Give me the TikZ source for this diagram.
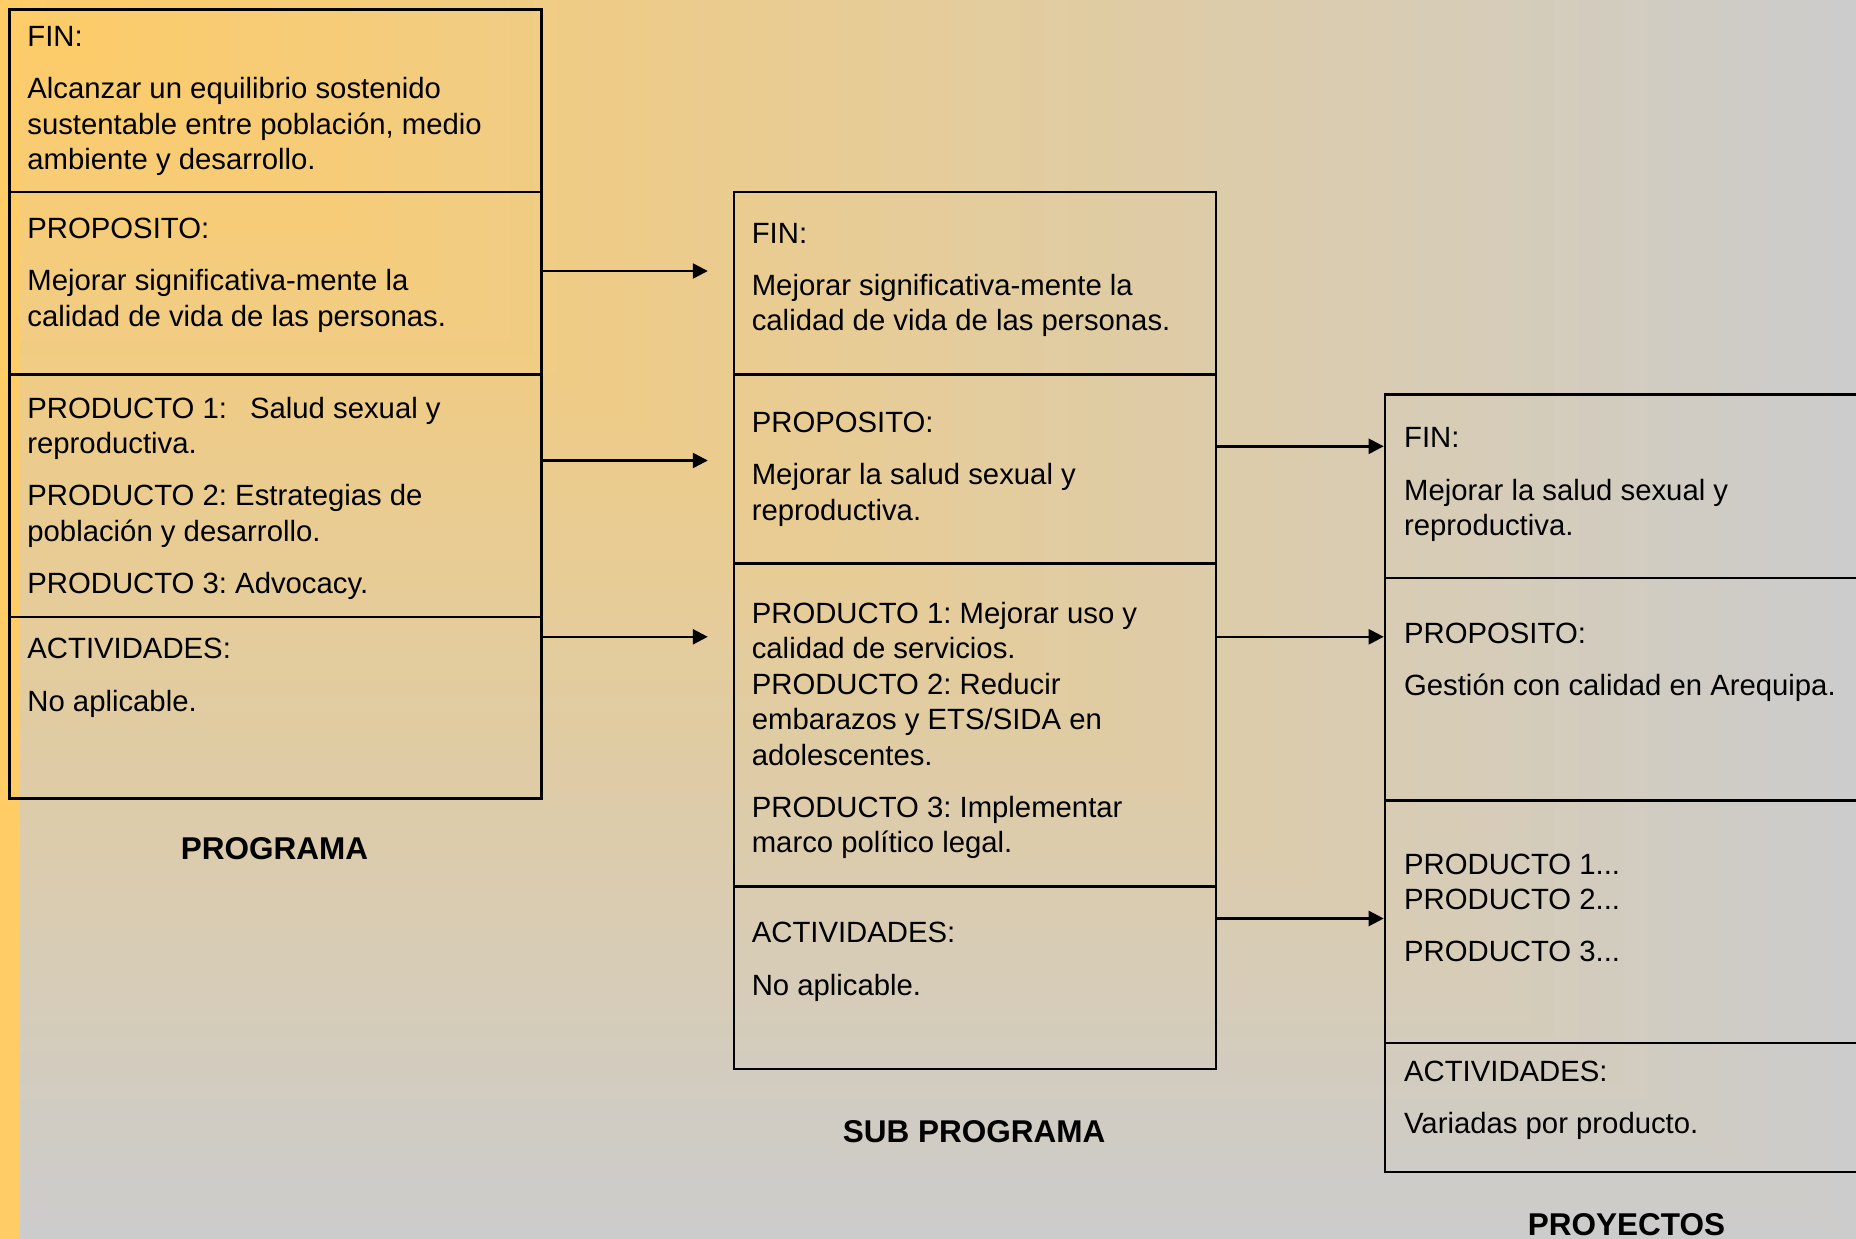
\documentclass[tikz,border=0pt]{standalone}
\usepackage{fontspec}
\setmainfont{Liberation Sans}
\usetikzlibrary{arrows.meta}
\definecolor{warm}{RGB}{255,204,102}
\definecolor{cool}{RGB}{204,204,204}
\frenchspacing
\begin{document}
\begin{tikzpicture}[x=1pt,y=-1pt,
  sec/.style={draw=black, line width=2.6pt, rectangle, inner sep=0pt, anchor=north west},
  txt/.style={anchor=north west, inner sep=0pt, align=left, font=\fontsize{29.3}{35.5}\selectfont},
  lbl/.style={inner sep=0pt, font=\bfseries\fontsize{31.5}{36}\selectfont},
  link/.style={line width=2.4pt, -{Triangle[length=15pt,width=15pt]}}]
\useasboundingbox (0,0) rectangle (1856,1239);
\clip (0,0) rectangle (1856,1239);
% background: gradient spreading from the top left corner
\foreach \i in {80,79,...,1}{
  \pgfmathsetmacro{\pct}{100-\i*1.25}
  \fill[warm!\pct!cool] (0,0) rectangle (\i*23.2, \i*15.4875);
}
\fill[warm] (0,0) rectangle (20,1239);

% PROGRAMA
\node[sec, minimum width=532pt, minimum height=182.6pt] (L1) at (8,8) {};
\node[sec, minimum width=532pt, minimum height=182.3pt] (L2) at (8,190.6) {};
\node[sec, minimum width=532pt, minimum height=242.6pt] (L3) at (8,372.9) {};
\node[sec, minimum width=532pt, minimum height=181.5pt] (L4) at (8,615.5) {};
\node[txt] (tL1) at (27.2,26.3) {FIN:\\[16.6pt]Alcanzar un equilibrio sostenido\\sustentable entre población, medio\\ambiente y desarrollo.};
\node[txt] (tL2) at (27.2,218.1) {PROPOSITO:\\[16.6pt]Mejorar significativa-mente la\\calidad de vida de las personas.};
\node[txt] (tL3) at (27.2,396.8) {PRODUCTO 1:\hspace{23pt}Salud sexual y\\reproductiva.\\[16.6pt]PRODUCTO 2: Estrategias de\\población y desarrollo.\\[16.6pt]PRODUCTO 3: Advocacy.};
\node[txt] (tL4) at (27.2,638.3) {ACTIVIDADES:\\[16.6pt]No aplicable.};
\node[lbl] (lp) at (274.6,848.7) {PROGRAMA};

% SUB PROGRAMA
\node[sec, minimum width=481.8pt, minimum height=182.3pt] (M1) at (732.7,190.6) {};
\node[sec, minimum width=481.8pt, minimum height=189.4pt] (M2) at (732.7,372.9) {};
\node[sec, minimum width=481.8pt, minimum height=323.1pt] (M3) at (732.7,562.3) {};
\node[sec, minimum width=481.8pt, minimum height=182.3pt] (M4) at (732.7,885.4) {};
\node[txt] (tM1) at (751.6,222.8) {FIN:\\[16.6pt]Mejorar significativa-mente la\\calidad de vida de las personas.};
\node[txt] (tM2) at (751.6,412.2) {PROPOSITO:\\[16.6pt]Mejorar la salud sexual y\\reproductiva.};
\node[txt] (tM3) at (751.6,601.6) {PRODUCTO 1: Mejorar uso y\\calidad de servicios.\\PRODUCTO 2: Reducir\\embarazos y ETS/SIDA en\\adolescentes.\\[16.6pt]PRODUCTO 3: Implementar\\marco político legal.};
\node[txt] (tM4) at (751.6,922.3) {ACTIVIDADES:\\[16.6pt]No aplicable.};
\node[lbl] (ls) at (974.2,1131.6) {SUB PROGRAMA};

% PROYECTOS
\node[sec, minimum width=516.3pt, minimum height=183.5pt] (R1) at (1383.7,393) {};
\node[sec, minimum width=516.3pt, minimum height=222.5pt] (R2) at (1383.7,576.5) {};
\node[sec, minimum width=516.3pt, minimum height=242.6pt] (R3) at (1383.7,799) {};
\node[sec, minimum width=516.3pt, minimum height=129.1pt] (R4) at (1383.7,1041.6) {};
\node[txt] (tR1) at (1403.9,427.6) {FIN:\\[16.6pt]Mejorar la salud sexual y\\reproductiva.};
\node[txt] (tR2) at (1403.9,622.9) {PROPOSITO:\\[16.6pt]Gestión con calidad en Arequipa.};
\node[txt] (tR3) at (1403.9,853.7) {PRODUCTO 1...\\PRODUCTO 2...\\[16.6pt]PRODUCTO 3...};
\node[txt] (tR4) at (1403.9,1060.8) {ACTIVIDADES:\\[16.6pt]Variadas por producto.};
\node[lbl] (lr) at (1626.4,1224.3) {PROYECTOS};

% connectors
\coordinate (a1) at (707.8,271);
\coordinate (a2) at (707.8,460.5);
\coordinate (a3) at (707.8,636.8);
\draw[link] (L2.east |- a1) -- (a1);
\draw[link] (L3.east |- a2) -- (a2);
\draw[link] (L4.east |- a3) -- (a3);
\coordinate (b1) at (0,446.3);
\coordinate (b2) at (0,636.8);
\coordinate (b3) at (0,918.5);
\draw[link] (M2.east |- b1) -- (R1.west |- b1);
\draw[link] (M3.east |- b2) -- (R2.west |- b2);
\draw[link] (M4.east |- b3) -- (R3.west |- b3);
\end{tikzpicture}
\end{document}
